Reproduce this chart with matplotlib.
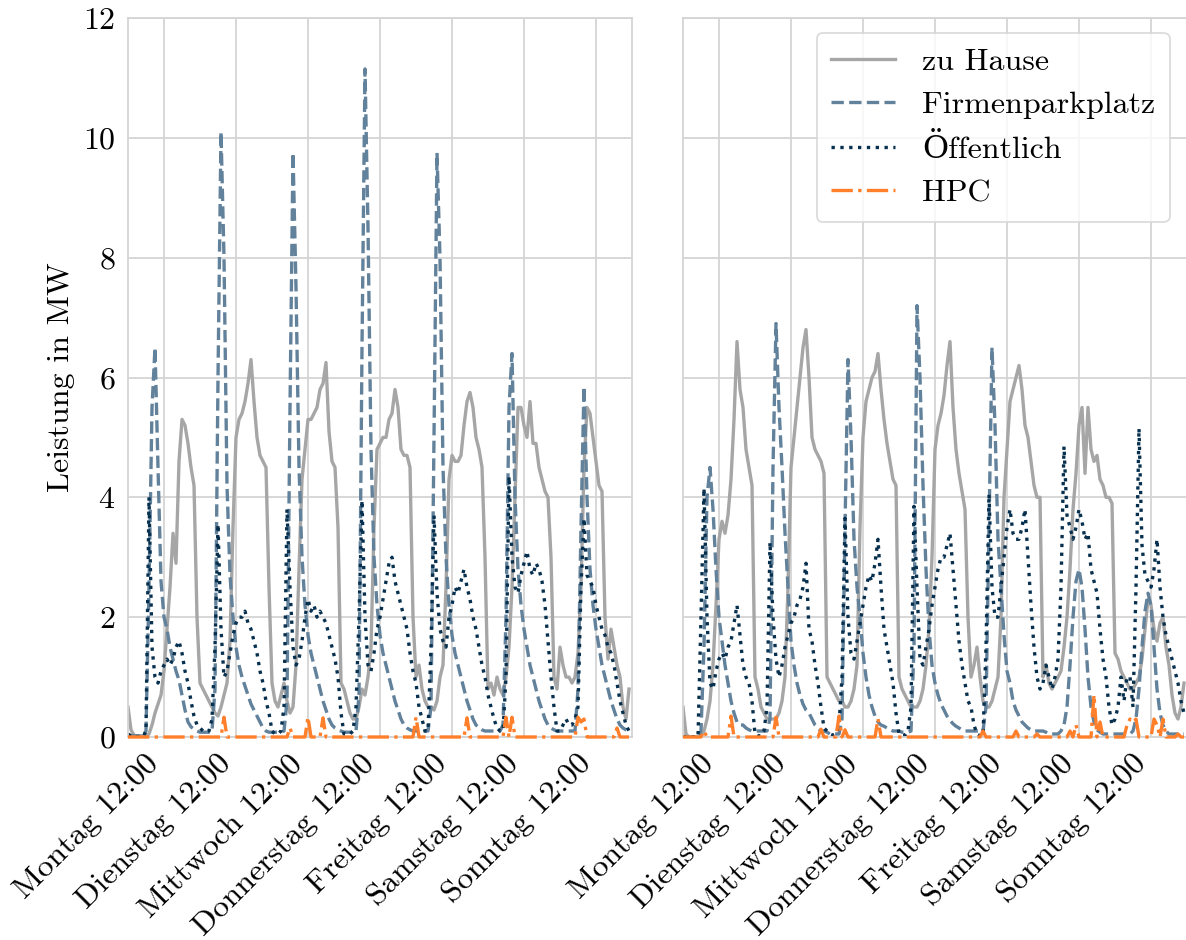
import numpy as np
import matplotlib
matplotlib.use("Agg")
import matplotlib.pyplot as plt

# ---------------------------------------------------------------------------
# Labels
days = ["Montag", "Dienstag", "Mittwoch", "Donnerstag", "Freitag", "Samstag", "Sonntag"]
tick_labels = [f"{d} 12:00" for d in days]
series_names = ["zu Hause", "Firmenparkplatz", "Öffentlich", "HPC"]
y_label = "Leistung in MW"
y_ticks = [0, 2, 4, 6, 8, 10, 12]

# ---------------------------------------------------------------------------
# Hourly charging power in MW, one row of 24 values per weekday (Mo..So)

# Szenario A
home_a = [
    [0.5, 0.12, 0.03, 0.02, 0.02, 0.02, 0.02, 0.05, 0.2, 0.4, 0.55, 0.7, 1.1, 1.8, 2.5, 3.4, 2.9, 4.6, 5.3, 5.2, 4.9, 4.5, 4.2, 2.0],
    [0.9, 0.8, 0.7, 0.6, 0.5, 0.4, 0.35, 0.5, 0.7, 0.9, 1.6, 3.5, 5.0, 5.3, 5.4, 5.6, 5.9, 6.3, 5.6, 5.0, 4.7, 4.6, 4.5, 2.5],
    [0.9, 0.6, 0.5, 0.7, 0.9, 0.6, 0.4, 0.5, 1.2, 2.8, 4.3, 4.8, 5.3, 5.3, 5.4, 5.5, 5.8, 5.9, 6.25, 5.1, 4.6, 4.5, 3.5, 0.9],
    [0.8, 0.6, 0.4, 0.3, 0.3, 0.5, 0.8, 0.7, 1.0, 1.5, 3.5, 4.8, 4.9, 5.0, 5.0, 5.3, 5.4, 5.8, 5.5, 4.8, 4.7, 4.7, 4.5, 2.0],
    [1.0, 1.2, 0.8, 0.6, 0.5, 0.5, 0.45, 0.6, 1.0, 1.2, 2.5, 4.3, 4.7, 4.6, 4.6, 4.7, 5.2, 5.6, 5.75, 5.5, 5.0, 4.8, 4.5, 3.0],
    [0.8, 0.9, 0.7, 1.0, 0.8, 0.7, 1.0, 1.5, 2.5, 4.0, 5.5, 5.5, 5.2, 5.0, 5.6, 4.9, 4.9, 4.5, 4.3, 4.1, 4.0, 3.0, 1.0, 0.8],
    [1.5, 1.2, 1.0, 1.0, 0.9, 1.0, 1.4, 2.5, 4.5, 5.5, 5.4, 5.0, 4.6, 4.2, 4.1, 2.0, 1.3, 1.8, 1.5, 1.2, 1.0, 0.5, 0.3, 0.8],
]
work_a = [
    [0.02, 0.02, 0.02, 0.02, 0.02, 0.02, 0.1, 2.5, 5.5, 6.5, 4.5, 2.6, 2.0, 1.8, 1.5, 1.3, 1.1, 0.95, 0.7, 0.45, 0.25, 0.17, 0.13, 0.1],
    [0.08, 0.08, 0.08, 0.08, 0.1, 0.8, 6.0, 10.1, 8.0, 4.2, 2.7, 2.0, 1.5, 1.2, 1.0, 0.85, 0.7, 0.55, 0.45, 0.35, 0.25, 0.15, 0.1, 0.08],
    [0.08, 0.08, 0.08, 0.08, 0.1, 0.6, 5.5, 9.75, 7.5, 4.5, 3.0, 2.2, 1.7, 1.4, 1.2, 1.0, 0.8, 0.6, 0.45, 0.3, 0.2, 0.15, 0.12, 0.1],
    [0.08, 0.08, 0.08, 0.08, 0.1, 0.7, 6.5, 11.15, 8.5, 4.8, 3.0, 2.2, 1.7, 1.4, 1.2, 1.0, 0.8, 0.6, 0.45, 0.3, 0.2, 0.15, 0.12, 0.1],
    [0.1, 0.1, 0.1, 0.1, 0.1, 0.5, 5.0, 9.75, 8.0, 4.5, 3.0, 2.2, 1.7, 1.4, 1.2, 1.0, 0.8, 0.6, 0.45, 0.3, 0.2, 0.15, 0.12, 0.1],
    [0.1, 0.1, 0.1, 0.1, 0.1, 0.2, 2.0, 5.5, 6.4, 4.0, 2.8, 2.2, 1.8, 1.5, 1.2, 1.0, 0.8, 0.6, 0.45, 0.3, 0.2, 0.15, 0.12, 0.1],
    [0.1, 0.1, 0.1, 0.1, 0.1, 0.1, 0.8, 3.5, 5.85, 4.0, 2.8, 2.2, 1.8, 1.5, 1.2, 1.0, 0.8, 0.6, 0.45, 0.3, 0.2, 0.15, 0.12, 0.1],
]
public_a = [
    [0.05, 0.02, 0.0, 0.0, 0.0, 0.0, 0.1, 4.0, 1.5, 1.0, 0.9, 1.1, 1.2, 1.3, 1.2, 1.3, 1.5, 1.6, 1.4, 1.1, 0.9, 0.6, 0.35, 0.2],
    [0.15, 0.1, 0.08, 0.1, 0.3, 1.5, 3.55, 1.8, 1.0, 1.1, 1.4, 1.7, 1.9, 2.0, 2.0, 2.1, 1.9, 1.8, 1.6, 1.4, 1.1, 0.9, 0.6, 0.4],
    [0.1, 0.05, 0.05, 0.1, 0.5, 3.8, 2.5, 1.5, 1.2, 1.3, 1.6, 2.0, 2.3, 2.1, 2.2, 2.0, 2.1, 2.0, 1.9, 1.7, 1.5, 1.3, 1.0, 0.4],
    [0.05, 0.05, 0.05, 0.1, 0.5, 2.0, 3.95, 2.0, 1.2, 1.1, 1.4, 1.8, 2.0, 2.3, 2.6, 2.9, 3.0, 2.6, 2.4, 2.2, 2.0, 1.8, 1.4, 1.1],
    [0.9, 0.5, 0.3, 0.1, 0.1, 1.5, 3.7, 2.4, 1.8, 1.6, 1.5, 2.0, 2.2, 2.5, 2.4, 2.6, 2.8, 2.5, 2.3, 2.0, 1.8, 1.5, 1.2, 1.0],
    [0.7, 0.5, 0.3, 0.15, 0.1, 0.1, 1.0, 4.35, 3.0, 2.5, 2.4, 2.7, 2.9, 3.1, 2.8, 2.7, 2.9, 2.8, 2.6, 2.2, 1.6, 1.0, 0.5, 0.1],
    [0.1, 0.2, 0.3, 0.2, 0.2, 0.3, 0.5, 2.5, 3.65, 2.7, 2.6, 2.5, 2.2, 2.0, 1.8, 1.7, 1.5, 1.4, 1.2, 0.9, 0.6, 0.4, 0.2, 0.1],
]
hpc_a = [
    [0] * 24,
    [0, 0, 0, 0, 0, 0, 0, 0, 0.33, 0, 0, 0, 0, 0, 0, 0, 0, 0, 0, 0, 0, 0, 0, 0],
    [0, 0, 0, 0, 0, 0, 0.15, 0, 0, 0, 0, 0, 0.33, 0, 0, 0, 0, 0.32, 0, 0, 0, 0, 0, 0],
    [0] * 24,
    [0.33, 0, 0, 0, 0, 0, 0, 0, 0, 0, 0, 0, 0, 0, 0, 0, 0, 0.32, 0, 0, 0, 0, 0, 0],
    [0, 0, 0, 0, 0, 0, 0.33, 0, 0.33, 0, 0, 0, 0, 0, 0, 0, 0, 0, 0, 0, 0, 0, 0, 0],
    [0, 0, 0, 0, 0, 0, 0.33, 0.25, 0.3, 0, 0, 0, 0, 0, 0, 0, 0, 0, 0, 0.15, 0, 0, 0, 0],
]

# Szenario B
home_b = [
    [0.5, 0.05, 0.0, 0.0, 0.0, 0.0, 0.02, 0.1, 0.3, 0.6, 1.2, 2.2, 3.3, 3.6, 3.4, 3.7, 4.3, 5.3, 6.6, 5.8, 5.5, 4.8, 4.5, 4.2],
    [1.0, 0.8, 0.5, 0.4, 0.3, 0.3, 0.3, 0.3, 0.4, 0.6, 1.0, 2.5, 4.5, 5.0, 5.5, 6.0, 6.5, 6.8, 6.0, 5.0, 4.8, 4.7, 4.6, 4.4],
    [1.0, 0.9, 0.8, 0.7, 0.6, 0.6, 0.5, 0.5, 0.6, 0.8, 1.2, 3.5, 5.0, 5.6, 5.8, 6.0, 6.1, 6.4, 5.8, 5.3, 4.9, 4.6, 4.3, 4.2],
    [1.0, 0.8, 0.7, 0.6, 0.5, 0.5, 0.5, 0.6, 0.8, 1.2, 1.8, 3.0, 4.8, 5.2, 5.4, 5.7, 6.2, 6.6, 5.5, 4.8, 4.4, 4.1, 3.8, 2.0],
    [1.0, 1.2, 1.5, 1.0, 0.6, 0.5, 0.5, 0.6, 0.8, 1.0, 2.0, 4.0, 4.8, 5.6, 5.8, 6.0, 6.2, 5.8, 5.2, 5.0, 4.6, 4.2, 4.0, 4.0],
    [1.0, 1.2, 0.9, 0.8, 0.9, 1.0, 1.1, 1.5, 2.0, 2.8, 3.8, 4.4, 5.2, 5.5, 4.4, 5.5, 4.8, 4.6, 4.7, 4.3, 4.2, 4.0, 4.0, 3.9],
    [1.4, 1.3, 1.1, 1.0, 0.9, 0.8, 0.8, 0.9, 1.0, 1.3, 1.8, 2.3, 2.2, 1.8, 1.6, 1.9, 2.0, 1.5, 1.2, 0.7, 0.4, 0.3, 0.5, 0.9],
]
work_b = [
    [0.02, 0.0, 0.0, 0.0, 0.0, 0.0, 0.1, 1.5, 4.0, 4.5, 3.8, 2.8, 2.0, 1.6, 1.2, 0.9, 0.6, 0.4, 0.25, 0.2, 0.2, 0.15, 0.12, 0.1],
    [0.1, 0.1, 0.1, 0.1, 0.1, 0.3, 4.5, 6.9, 5.5, 4.5, 3.4, 2.5, 1.6, 1.2, 0.9, 0.7, 0.55, 0.45, 0.4, 0.3, 0.2, 0.15, 0.1, 0.1],
    [0.08, 0.05, 0.05, 0.05, 0.05, 0.3, 3.5, 6.3, 5.0, 3.3, 2.5, 2.0, 1.4, 1.0, 0.7, 0.5, 0.35, 0.25, 0.2, 0.18, 0.15, 0.12, 0.1, 0.1],
    [0.1, 0.08, 0.08, 0.08, 0.1, 1.5, 7.2, 6.0, 4.2, 2.8, 1.8, 1.2, 0.9, 0.7, 0.55, 0.45, 0.35, 0.28, 0.22, 0.18, 0.15, 0.12, 0.1, 0.1],
    [0.1, 0.1, 0.1, 0.1, 0.1, 0.5, 3.5, 6.5, 5.2, 3.3, 2.5, 1.7, 1.1, 0.9, 0.6, 0.45, 0.35, 0.25, 0.2, 0.15, 0.12, 0.1, 0.1, 0.1],
    [0.1, 0.08, 0.05, 0.05, 0.05, 0.05, 0.1, 0.2, 0.5, 1.2, 2.0, 2.6, 2.8, 2.5, 1.8, 1.0, 0.5, 0.25, 0.12, 0.08, 0.05, 0.05, 0.05, 0.05],
    [0.05, 0.05, 0.05, 0.05, 0.05, 0.05, 0.1, 0.3, 0.8, 1.5, 2.1, 2.4, 2.2, 1.5, 0.8, 0.4, 0.2, 0.1, 0.05, 0.05, 0.05, 0.05, 0.05, 0.05],
]
public_b = [
    [0.0, 0.0, 0.0, 0.0, 0.0, 0.0, 2.0, 4.15, 2.0, 0.9, 0.8, 1.1, 1.3, 1.4, 1.3, 1.5, 1.6, 1.9, 2.2, 1.7, 1.2, 1.0, 0.9, 0.6],
    [0.05, 0.02, 0.02, 0.1, 0.5, 3.25, 2.0, 1.3, 1.0, 1.2, 1.5, 1.7, 1.9, 2.0, 2.2, 2.3, 2.5, 2.9, 1.8, 1.6, 1.2, 0.9, 0.5, 0.15],
    [0.1, 0.05, 0.03, 0.05, 0.2, 1.0, 3.65, 2.0, 1.4, 1.3, 1.6, 1.9, 2.2, 2.5, 2.7, 2.6, 2.9, 3.3, 2.5, 1.8, 1.5, 1.2, 0.9, 0.4],
    [0.05, 0.03, 0.03, 0.1, 0.5, 3.85, 2.5, 1.3, 1.2, 1.5, 1.8, 2.2, 2.5, 2.8, 3.0, 3.0, 3.2, 3.4, 2.8, 2.2, 1.6, 1.2, 0.9, 0.6],
    [0.5, 0.2, 0.05, 0.02, 0.02, 1.5, 4.05, 2.5, 2.0, 2.0, 2.5, 3.0, 3.5, 3.8, 3.4, 3.3, 3.3, 3.5, 3.8, 3.0, 2.2, 1.5, 1.0, 0.8],
    [0.9, 1.2, 1.0, 0.8, 1.0, 1.3, 2.5, 4.85, 3.7, 3.5, 3.3, 3.5, 3.8, 3.6, 3.3, 3.4, 2.8, 2.6, 2.4, 1.8, 1.3, 1.0, 0.5, 0.2],
    [0.3, 0.5, 1.0, 0.6, 1.0, 1.0, 0.5, 2.5, 5.15, 3.2, 2.7, 2.6, 2.5, 2.8, 3.3, 2.5, 2.0, 1.7, 1.5, 1.3, 1.1, 0.9, 0.6, 0.4],
]
hpc_b = [
    [0, 0, 0, 0, 0, 0, 0, 0.1, 0, 0, 0, 0, 0, 0, 0, 0, 0.35, 0, 0, 0, 0, 0, 0, 0],
    [0, 0, 0, 0, 0, 0, 0, 0.33, 0, 0, 0, 0, 0, 0, 0, 0, 0, 0, 0, 0, 0, 0, 0.13, 0],
    [0, 0, 0, 0, 0.35, 0, 0.12, 0, 0, 0, 0, 0, 0, 0, 0, 0, 0, 0.3, 0, 0, 0, 0, 0, 0],
    [0] * 24,
    [0, 0, 0, 0, 0.1, 0, 0, 0, 0, 0, 0, 0, 0, 0, 0, 0.1, 0, 0, 0, 0, 0, 0, 0.05, 0],
    [0, 0, 0, 0, 0, 0, 0, 0, 0, 0.1, 0, 0.2, 0, 0, 0, 0, 0, 0.7, 0, 0.25, 0, 0, 0, 0],
    [0, 0, 0, 0, 0.2, 0.3, 0.25, 0.3, 0, 0, 0, 0, 0, 0.3, 0.2, 0, 0.3, 0, 0, 0, 0, 0.05, 0, 0],
]

# ---------------------------------------------------------------------------
plt.rcParams.update({
    "font.family": ["cmr10", "DejaVu Serif"],
    "mathtext.fontset": "cm",
    "axes.formatter.use_mathtext": True,
    "font.size": 23,
    "axes.unicode_minus": False,
})

colors = ["#a6a6a6", "#62819b", "#07304f", "#ff7f2a"]
styles = ["-", "--", ":", "-."]
lw = 2.4

fig = plt.figure(figsize=(11.86, 9.40), dpi=100)
ax_a = fig.add_axes([128 / 1186, 1 - 737 / 940, 504 / 1186, 719 / 940])
ax_b = fig.add_axes([683 / 1186, 1 - 737 / 940, 504 / 1186, 719 / 940], sharey=ax_a)

hours = np.arange(7 * 24)
panels = [
    (ax_a, [home_a, work_a, public_a, hpc_a]),
    (ax_b, [home_b, work_b, public_b, hpc_b]),
]

for ax, data in panels:
    for i, (name, rows, c, ls) in enumerate(zip(series_names, data, colors, styles)):
        values = np.concatenate([np.asarray(r, dtype=float) for r in rows])
        is_hpc = i == 3
        ax.plot(hours, values, color=c, linestyle=ls, linewidth=lw, label=name,
                clip_on=not is_hpc, zorder=3 if is_hpc else 2)
    ax.set_xlim(0, 7 * 24)
    ax.set_ylim(0, 12)
    ax.set_yticks(y_ticks)
    ax.set_xticks(np.arange(7) * 24 + 12)
    ax.set_xticklabels(tick_labels, rotation=45, ha="right")
    ax.grid(True, color="#d4d4d4", linewidth=1.3)
    ax.set_axisbelow(True)
    for sp in ax.spines.values():
        sp.set_color("#d4d4d4")
        sp.set_linewidth(1.3)
    ax.tick_params(length=0, pad=9)

ax_a.set_ylabel(y_label, labelpad=6)
plt.setp(ax_b.get_yticklabels(), visible=False)

leg = ax_b.legend(loc="upper right", frameon=True, fancybox=True,
                  borderpad=0.45, labelspacing=0.47, handlelength=2.0,
                  handletextpad=0.85, borderaxespad=0.0,
                  bbox_to_anchor=(0.966, 0.979))
leg.get_frame().set_edgecolor("#d4d4d4")
leg.get_frame().set_linewidth(1.3)

fig.savefig("out.png", dpi=100)
